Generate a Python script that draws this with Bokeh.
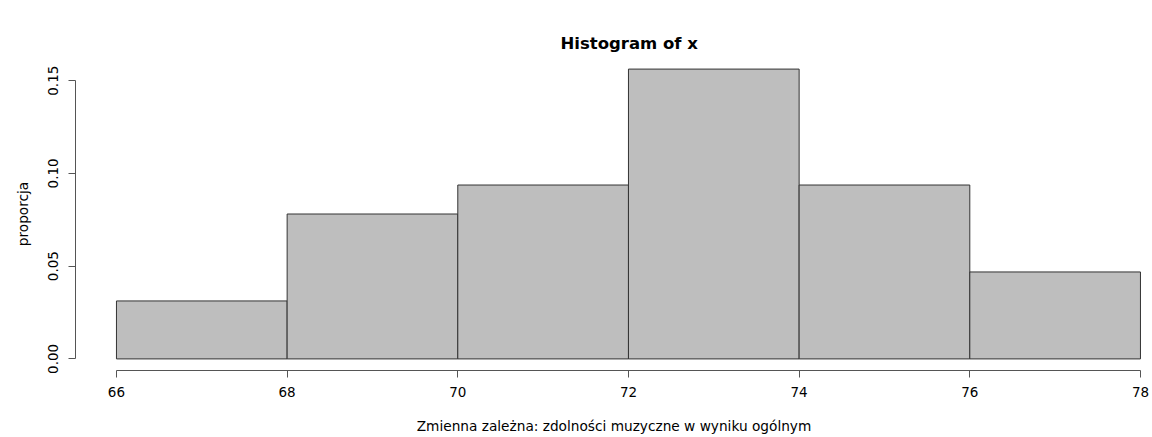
from bokeh.plotting import figure
from bokeh.models import Range1d, FixedTicker, Title
from bokeh.embed import file_html
from bokeh.resources import INLINE

# data
breaks = [66, 68, 70, 72, 74, 76, 78]
density = [0.03125, 0.078125, 0.09375, 0.15625, 0.09375, 0.046875]
x_ticks = [66, 68, 70, 72, 74, 76, 78]
y_ticks = [0.0, 0.05, 0.10, 0.15]
y_tick_labels = ["0.00", "0.05", "0.10", "0.15"]
title_text = "Histogram of x"

FONT = "DejaVu Sans"

p = figure(width=1152, height=437, output_backend="svg", toolbar_location=None,
           x_range=Range1d(65.52, 78.141), y_range=Range1d(-0.00625, 0.1625),
           min_border_left=75, min_border_right=0, min_border_top=57, min_border_bottom=67)
p.title = None

p.quad(left=breaks[:-1], right=breaks[1:], bottom=0, top=density,
       fill_color="#BEBEBE", line_color="#333333", line_width=1)

main_title = Title(text=title_text, text_font=FONT, text_font_style="bold",
                   text_font_size="16.5px", text_color="black", align="left",
                   offset=485, standoff=10)
p.add_layout(main_title, "above")

# spacer between frame and main title (R leaves a gap there)
spacer = Title(text=" ", text_font_size="14px", standoff=4, text_alpha=0)
p.add_layout(spacer, "above")

p.grid.visible = False
p.outline_line_color = None
p.background_fill_color = "white"
p.border_fill_color = "white"

for ax in (p.xaxis[0], p.yaxis[0]):
    ax.axis_line_color = "#555555"
    ax.major_tick_line_color = "#555555"
    ax.minor_tick_line_color = None
    ax.major_tick_out = 7
    ax.major_tick_in = 0
    ax.major_label_text_font = FONT
    ax.major_label_text_font_size = "13.5px"
    ax.major_label_text_color = "black"
    ax.axis_label_text_font = FONT
    ax.axis_label_text_font_size = "13.7px"
    ax.axis_label_text_font_style = "normal"
    ax.axis_label_text_color = "black"

xa = p.xaxis[0]
xa.ticker = FixedTicker(ticks=x_ticks)
xa.bounds = (breaks[0], breaks[-1])
xa.axis_label = "Zmienna zależna: zdolności muzyczne w wyniku ogólnym"
xa.major_label_standoff = 9
xa.axis_label_standoff = 18

ya = p.yaxis[0]
ya.ticker = FixedTicker(ticks=y_ticks)
ya.major_label_overrides = {t: l for t, l in zip(y_ticks, y_tick_labels)}
ya.bounds = (y_ticks[0], y_ticks[-1])
ya.major_label_orientation = "vertical"
ya.axis_label = "proporcja"
ya.major_label_standoff = 10
ya.axis_label_standoff = 15

open("out.html", "w").write(file_html(p, INLINE))
